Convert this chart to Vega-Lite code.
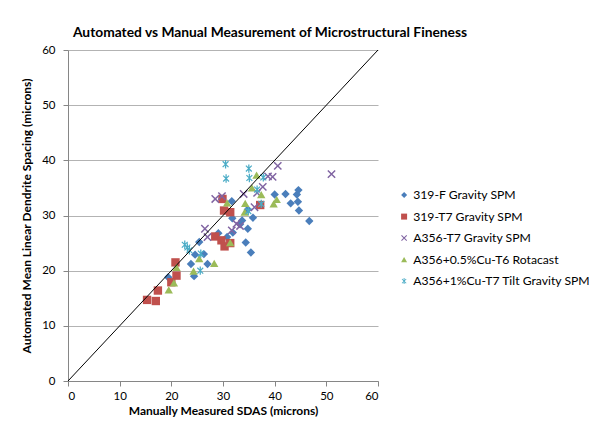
{
  "$schema": "https://vega.github.io/schema/vega-lite/v6.json",
  "width": 310,
  "height": 331,
  "autosize": {"type": "none"},
  "padding": {"left": 68, "top": 50, "right": 211, "bottom": 51},
  "background": "white",
  "title": {
    "text": "Automated vs Manual Measurement of Microstructural Fineness",
    "font": "Lato",
    "fontSize": 13.8,
    "fontWeight": "bold",
    "color": "#000000",
    "anchor": "middle",
    "dx": 47,
    "offset": 4
  },
  "config": {
    "view": {"stroke": null},
    "font": "Lato",
    "axis": {
      "labelFont": "Lato",
      "labelFontSize": 11.5,
      "labelColor": "#000000",
      "titleFont": "Lato",
      "titleFontSize": 12,
      "titleFontWeight": "bold",
      "titleColor": "#000000",
      "domainColor": "#868686",
      "tickColor": "#868686",
      "tickSize": 5,
      "gridColor": "#B3B3B3"
    }
  },
  "datasets": {
    "pts": [
      {"s": "319-F Gravity SPM", "x": 19.4, "y": 18.8},
      {"s": "319-F Gravity SPM", "x": 23.8, "y": 21.2},
      {"s": "319-F Gravity SPM", "x": 24.4, "y": 19.0},
      {"s": "319-F Gravity SPM", "x": 24.6, "y": 22.9},
      {"s": "319-F Gravity SPM", "x": 25.4, "y": 25.2},
      {"s": "319-F Gravity SPM", "x": 26.3, "y": 23.0},
      {"s": "319-F Gravity SPM", "x": 27.0, "y": 21.2},
      {"s": "319-F Gravity SPM", "x": 29.1, "y": 26.8},
      {"s": "319-F Gravity SPM", "x": 30.8, "y": 26.1},
      {"s": "319-F Gravity SPM", "x": 31.7, "y": 32.6},
      {"s": "319-F Gravity SPM", "x": 31.9, "y": 26.9},
      {"s": "319-F Gravity SPM", "x": 31.8, "y": 29.5},
      {"s": "319-F Gravity SPM", "x": 33.7, "y": 29.1},
      {"s": "319-F Gravity SPM", "x": 33.3, "y": 28.4},
      {"s": "319-F Gravity SPM", "x": 34.4, "y": 25.1},
      {"s": "319-F Gravity SPM", "x": 34.8, "y": 27.6},
      {"s": "319-F Gravity SPM", "x": 34.8, "y": 31.1},
      {"s": "319-F Gravity SPM", "x": 35.4, "y": 23.3},
      {"s": "319-F Gravity SPM", "x": 35.8, "y": 29.6},
      {"s": "319-F Gravity SPM", "x": 40.0, "y": 33.8},
      {"s": "319-F Gravity SPM", "x": 42.1, "y": 33.9},
      {"s": "319-F Gravity SPM", "x": 44.3, "y": 33.8},
      {"s": "319-F Gravity SPM", "x": 44.6, "y": 34.6},
      {"s": "319-F Gravity SPM", "x": 43.1, "y": 32.2},
      {"s": "319-F Gravity SPM", "x": 44.5, "y": 32.5},
      {"s": "319-F Gravity SPM", "x": 44.7, "y": 30.9},
      {"s": "319-F Gravity SPM", "x": 46.7, "y": 29.0},
      {"s": "319-T7 Gravity SPM", "x": 20.8, "y": 21.5},
      {"s": "319-T7 Gravity SPM", "x": 21.0, "y": 19.1},
      {"s": "319-T7 Gravity SPM", "x": 20.0, "y": 17.9},
      {"s": "319-T7 Gravity SPM", "x": 17.4, "y": 16.4},
      {"s": "319-T7 Gravity SPM", "x": 15.3, "y": 14.7},
      {"s": "319-T7 Gravity SPM", "x": 17.0, "y": 14.5},
      {"s": "319-T7 Gravity SPM", "x": 29.9, "y": 33.0},
      {"s": "319-T7 Gravity SPM", "x": 30.2, "y": 30.9},
      {"s": "319-T7 Gravity SPM", "x": 31.4, "y": 30.6},
      {"s": "319-T7 Gravity SPM", "x": 28.5, "y": 26.2},
      {"s": "319-T7 Gravity SPM", "x": 29.7, "y": 25.5},
      {"s": "319-T7 Gravity SPM", "x": 30.3, "y": 24.4},
      {"s": "319-T7 Gravity SPM", "x": 31.4, "y": 25.0},
      {"s": "319-T7 Gravity SPM", "x": 37.2, "y": 31.9},
      {"s": "A356-T7 Gravity SPM", "x": 40.6, "y": 39.0},
      {"s": "A356-T7 Gravity SPM", "x": 51.0, "y": 37.5},
      {"s": "A356-T7 Gravity SPM", "x": 38.7, "y": 37.1},
      {"s": "A356-T7 Gravity SPM", "x": 39.6, "y": 37.0},
      {"s": "A356-T7 Gravity SPM", "x": 37.7, "y": 35.2},
      {"s": "A356-T7 Gravity SPM", "x": 36.6, "y": 34.1},
      {"s": "A356-T7 Gravity SPM", "x": 34.0, "y": 33.9},
      {"s": "A356-T7 Gravity SPM", "x": 29.8, "y": 33.5},
      {"s": "A356-T7 Gravity SPM", "x": 28.5, "y": 33.0},
      {"s": "A356-T7 Gravity SPM", "x": 36.1, "y": 31.5},
      {"s": "A356-T7 Gravity SPM", "x": 32.6, "y": 28.5},
      {"s": "A356-T7 Gravity SPM", "x": 33.3, "y": 28.1},
      {"s": "A356-T7 Gravity SPM", "x": 31.7, "y": 27.3},
      {"s": "A356-T7 Gravity SPM", "x": 26.5, "y": 27.6},
      {"s": "A356-T7 Gravity SPM", "x": 27.0, "y": 26.1},
      {"s": "A356+0.5%Cu-T6 Rotacast", "x": 36.5, "y": 37.3},
      {"s": "A356+0.5%Cu-T6 Rotacast", "x": 35.6, "y": 35.0},
      {"s": "A356+0.5%Cu-T6 Rotacast", "x": 37.4, "y": 33.8},
      {"s": "A356+0.5%Cu-T6 Rotacast", "x": 34.3, "y": 32.2},
      {"s": "A356+0.5%Cu-T6 Rotacast", "x": 34.2, "y": 30.6},
      {"s": "A356+0.5%Cu-T6 Rotacast", "x": 39.8, "y": 32.1},
      {"s": "A356+0.5%Cu-T6 Rotacast", "x": 40.4, "y": 32.9},
      {"s": "A356+0.5%Cu-T6 Rotacast", "x": 30.8, "y": 32.3},
      {"s": "A356+0.5%Cu-T6 Rotacast", "x": 31.4, "y": 25.1},
      {"s": "A356+0.5%Cu-T6 Rotacast", "x": 28.3, "y": 21.3},
      {"s": "A356+0.5%Cu-T6 Rotacast", "x": 25.4, "y": 22.2},
      {"s": "A356+0.5%Cu-T6 Rotacast", "x": 24.3, "y": 19.9},
      {"s": "A356+0.5%Cu-T6 Rotacast", "x": 21.0, "y": 20.6},
      {"s": "A356+0.5%Cu-T6 Rotacast", "x": 20.5, "y": 17.8},
      {"s": "A356+0.5%Cu-T6 Rotacast", "x": 19.5, "y": 16.5},
      {"s": "A356+1%Cu-T7 Tilt Gravity SPM", "x": 30.5, "y": 39.3},
      {"s": "A356+1%Cu-T7 Tilt Gravity SPM", "x": 30.6, "y": 36.7},
      {"s": "A356+1%Cu-T7 Tilt Gravity SPM", "x": 35.0, "y": 38.5},
      {"s": "A356+1%Cu-T7 Tilt Gravity SPM", "x": 35.1, "y": 36.8},
      {"s": "A356+1%Cu-T7 Tilt Gravity SPM", "x": 37.8, "y": 36.9},
      {"s": "A356+1%Cu-T7 Tilt Gravity SPM", "x": 36.6, "y": 34.7},
      {"s": "A356+1%Cu-T7 Tilt Gravity SPM", "x": 37.4, "y": 32.1},
      {"s": "A356+1%Cu-T7 Tilt Gravity SPM", "x": 34.9, "y": 30.8},
      {"s": "A356+1%Cu-T7 Tilt Gravity SPM", "x": 22.6, "y": 24.7},
      {"s": "A356+1%Cu-T7 Tilt Gravity SPM", "x": 23.1, "y": 24.2},
      {"s": "A356+1%Cu-T7 Tilt Gravity SPM", "x": 23.5, "y": 23.7},
      {"s": "A356+1%Cu-T7 Tilt Gravity SPM", "x": 25.7, "y": 23.1},
      {"s": "A356+1%Cu-T7 Tilt Gravity SPM", "x": 25.6, "y": 20.0}
    ],
    "diag": [
      {"x": 0, "y": 0},
      {"x": 60, "y": 60}
    ]
  },
  "layer": [
    {
      "data": {"name": "pts"},
      "mark": {"type": "point", "filled": true, "opacity": 1, "size": 70},
      "encoding": {
        "x": {
          "field": "x", "type": "quantitative",
          "scale": {"domain": [0, 60], "nice": false},
          "axis": {"title": "Manually Measured SDAS (microns)", "values": [0, 10, 20, 30, 40, 50, 60], "grid": false, "labelPadding": 4, "titlePadding": 4}
        },
        "y": {
          "field": "y", "type": "quantitative",
          "scale": {"domain": [0, 60], "nice": false},
          "axis": {"title": "Automated Mean Linear Dendrite Spacing (microns)", "values": [0, 10, 20, 30, 40, 50, 60], "grid": true, "labelPadding": 8, "titlePadding": 8}
        },
        "color": {
          "field": "s", "type": "nominal",
          "scale": {
            "domain": ["319-F Gravity SPM", "319-T7 Gravity SPM", "A356-T7 Gravity SPM", "A356+0.5%Cu-T6 Rotacast", "A356+1%Cu-T7 Tilt Gravity SPM"],
            "range": ["#4A7EBB", "#C0504D", "#8064A2", "#9BBB59", "#4BACC6"]
          },
          "legend": {
            "title": null,
            "orient": "none",
            "legendX": 330,
            "legendY": 139,
            "labelFont": "Lato",
            "labelFontSize": 12.2,
            "labelColor": "#000000",
            "labelLimit": 0,
            "symbolSize": 36,
            "symbolStrokeWidth": 0,
            "rowPadding": 8.5,
            "labelOffset": 3
          }
        },
        "shape": {
          "field": "s", "type": "nominal",
          "scale": {
            "domain": ["319-F Gravity SPM", "319-T7 Gravity SPM", "A356-T7 Gravity SPM", "A356+0.5%Cu-T6 Rotacast", "A356+1%Cu-T7 Tilt Gravity SPM"],
            "range": [
              "diamond",
              "square",
              "M-0.75,-1L1,0.75L0.75,1L-1,-0.75ZM0.75,-1L1,-0.75L-0.75,1L-1,0.75Z",
              "triangle-up",
              "M-0.6,-0.8L0.8,0.6L0.6,0.8L-0.8,-0.6ZM0.6,-0.8L0.8,-0.6L-0.6,0.8L-0.8,0.6ZM-0.15,-1L0.15,-1L0.15,1L-0.15,1Z"
            ]
          },
          "legend": null
        }
      }
    },
    {
      "data": {"name": "diag"},
      "mark": {"type": "line", "color": "#000000", "strokeWidth": 1},
      "encoding": {
        "x": {"field": "x", "type": "quantitative"},
        "y": {"field": "y", "type": "quantitative"}
      }
    }
  ]
}
